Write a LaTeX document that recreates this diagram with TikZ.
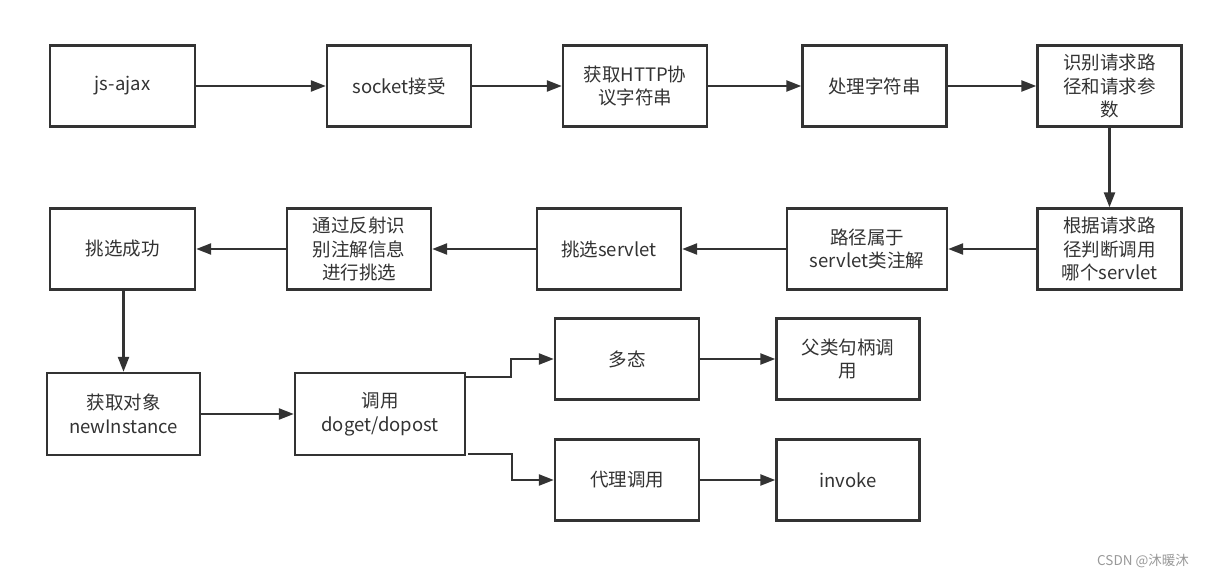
\documentclass[tikz,border=0pt]{standalone}
\usepackage{fontspec}
\setmainfont{Noto Sans CJK SC}
\usetikzlibrary{arrows.meta,calc}
\definecolor{ln}{HTML}{333333}
\definecolor{tx}{HTML}{333333}
\definecolor{wm}{HTML}{999999}
\tikzset{
  box/.style={draw=ln, line width=2.4pt, fill=white, minimum width=144pt, minimum height=81pt,
    align=center, text=tx, font=\fontsize{18.5}{23.5}\selectfont, inner sep=2pt},
  arr/.style={draw=ln, line width=2.4pt, -{Triangle[length=15pt,width=11pt]}},
}
\begin{document}
\begin{tikzpicture}[x=1pt,y=-1pt]
\fill[white] (0,0) rectangle (1209,577);
\useasboundingbox (0,0) rectangle (1209,577);
% row 1
\node[box, minimum width=145pt] (js) at (122.5,86) {js-ajax};
\node[box] (sock) at (399,86) {socket接受};
\node[box] (http) at (635,86) {获取HTTP协\\议字符串};
\node[box] (proc) at (874.5,86) {处理字符串};
\node[box] (ident) at (1109.5,86) {识别请求路\\径和请求参\\数};
% row 2
\node[box] (root) at (1109.5,249) {根据请求路\\径判断调用\\哪个servlet};
\node[box, minimum width=160pt] (path) at (867,249) {路径属于\\servlet类注解};
\node[box] (pick) at (609,249) {挑选servlet};
\node[box] (refl) at (359,249) {通过反射识\\别注解信息\\进行挑选};
\node[box, minimum width=145pt] (succ) at (122.5,249) {挑选成功};
% row 3
\node[box, minimum width=153pt, minimum height=82pt] (obj) at (123.5,414) {获取对象\\newInstance};
\node[box, minimum width=170pt, minimum height=82pt] (call) at (380,414) {调用\\doget/dopost};
\node[box] (poly) at (627,359) {多态};
\node[box, minimum width=143pt] (parent) at (848,359) {父类句柄调\\用};
\node[box] (proxy) at (627,480) {代理调用};
\node[box, minimum width=143pt] (inv) at (848,480) {invoke};
% connectors
\draw[arr] (js) -- (sock);
\draw[arr] (sock) -- (http);
\draw[arr] (http) -- (proc);
\draw[arr] (proc) -- (ident);
\draw[arr] (ident) -- (root);
\draw[arr] (root) -- (path);
\draw[arr] (path) -- (pick);
\draw[arr] (pick) -- (refl);
\draw[arr] (refl) -- (succ);
\draw[arr] (succ.south -| obj.north) -- (obj.north);
\draw[arr] (obj) -- (call);
\draw[arr] ([yshift=-5pt]call.north east) -- ++(45,0) |- (poly.west);
\draw[arr] ([xshift=2pt,yshift=2pt]call.south east) -- ++(44,0) |- (proxy.west);
\draw[arr] (poly) -- (parent);
\draw[arr] (proxy) -- (inv);
% watermark
\node[text=wm, font=\fontsize{13.5}{15}\selectfont, inner sep=0pt] (wmk) at (1143,561) {CSDN @沐暖沐};
\end{tikzpicture}
\end{document}
